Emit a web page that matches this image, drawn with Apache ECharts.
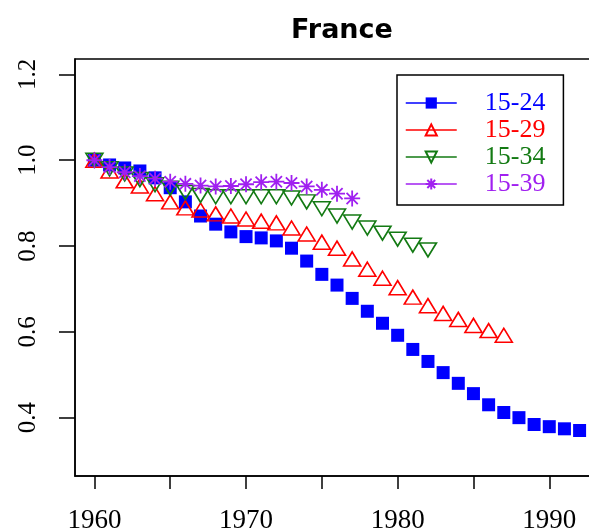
<!DOCTYPE html>
<html>
<head>
<meta charset="utf-8">
<script src="https://cdn.jsdelivr.net/npm/echarts@6/dist/echarts.min.js"></script>
<style>
  html, body { margin: 0; padding: 0; background: #fff; }
  #myChart { width: 589px; height: 531px; }
</style>
</head>
<body>
<div id="myChart"></div>
<script>
// data
const years = [1960, 1961, 1962, 1963, 1964, 1965, 1966, 1967, 1968, 1969, 1970,
  1971, 1972, 1973, 1974, 1975, 1976, 1977, 1978, 1979, 1980,
  1981, 1982, 1983, 1984, 1985, 1986, 1987, 1988, 1989, 1990, 1991, 1992]
const age1524 = [1.000, 0.989, 0.982, 0.975, 0.959, 0.936, 0.903, 0.870, 0.851, 0.833, 0.822,
  0.819, 0.812, 0.795, 0.765, 0.734, 0.709, 0.678, 0.648, 0.620, 0.592,
  0.559, 0.531, 0.505, 0.480, 0.456, 0.430, 0.412, 0.400, 0.384, 0.379, 0.374, 0.370]
const age1529 = [1.000, 0.975, 0.952, 0.940, 0.922, 0.903, 0.889, 0.884, 0.875, 0.870, 0.863,
  0.858, 0.854, 0.842, 0.828, 0.809, 0.795, 0.770, 0.746, 0.725, 0.703,
  0.681, 0.661, 0.643, 0.629, 0.615, 0.603, 0.592]
const age1534 = [1.000, 0.980, 0.968, 0.955, 0.943, 0.935, 0.925, 0.918, 0.915, 0.915, 0.915,
  0.915, 0.915, 0.912, 0.903, 0.887, 0.870, 0.856, 0.842, 0.830, 0.816,
  0.802, 0.791]
const age1539 = [1.000, 0.984, 0.972, 0.963, 0.957, 0.950, 0.945, 0.941, 0.939, 0.940, 0.944,
  0.949, 0.950, 0.947, 0.939, 0.931, 0.922, 0.911]
const seriesNames = ['15-24', '15-29', '15-34', '15-39']
const seriesColors = ['#0000ff', '#ff0000', '#137a13', '#a020f0']
const xTicks = [1960, 1965, 1970, 1975, 1980, 1985, 1990]
const xLabels = [1960, 1970, 1980, 1990]
const yTicks = [0.4, 0.6, 0.8, 1.0, 1.2]

const asterisk = 'path://M10,0L10,20M0,10L20,10M3,3L17,17M3,17L17,3'

function pairs(vals) {
  return vals.map((v, i) => [years[i], v])
}

function makeSeries(idx, vals, symbol, size, rotate, filled, bw) {
  const c = seriesColors[idx]
  return {
    name: seriesNames[idx],
    type: 'line',
    data: pairs(vals),
    symbol: symbol,
    symbolSize: size,
    symbolRotate: rotate,
    showAllSymbol: true,
    lineStyle: { width: 0, color: c },
    itemStyle: {
      color: filled ? c : 'rgba(0,0,0,0)',
      borderColor: c,
      borderWidth: filled ? 0 : bw
    },
    emphasis: { disabled: true }
  }
}

const myChart = echarts.init(document.getElementById('myChart'), null, { renderer: 'canvas' })
myChart.setOption({
  animation: false,
  title: {
    text: 'France',
    left: 337,
    top: 12,
    textAlign: 'center',
    textStyle: { fontFamily: 'DejaVu Sans', fontWeight: 'bold', fontSize: 27, color: '#000' }
  },
  grid: {
    left: 75,
    right: -10,
    top: 59,
    bottom: 55,
    outerBoundsMode: 'none',
    show: true,
    borderColor: '#000',
    borderWidth: 1.5
  },
  legend: {
    orient: 'vertical',
    left: 397,
    top: 75,
    padding: [15, 18, 8, 8],
    borderColor: '#000',
    borderWidth: 1.5,
    itemWidth: 51,
    itemHeight: 14,
    itemGap: 1,
    lineStyle: { width: 1.5, opacity: 1 },
    textStyle: {
      fontFamily: 'Liberation Serif',
      fontSize: 26,
      lineHeight: 26,
      padding: [0, 0, 0, 23]
    },
    data: seriesNames.map((n, i) => ({ name: n, textStyle: { color: seriesColors[i] } }))
  },
  xAxis: {
    type: 'value',
    min: 1958.72,
    max: 1993.28,
    axisLine: { show: true, lineStyle: { color: '#000', width: 1.5 } },
    axisTick: { show: true, length: 13, customValues: xTicks, lineStyle: { color: '#000', width: 1.5 } },
    axisLabel: {
      customValues: xLabels,
      margin: 31,
      fontFamily: 'Liberation Serif',
      fontSize: 27,
      color: '#000',
      formatter: v => String(Math.round(v))
    },
    splitLine: { show: false }
  },
  yAxis: {
    type: 'value',
    min: 0.264,
    max: 1.236,
    axisLine: { show: true, lineStyle: { color: '#000', width: 1.5 } },
    axisTick: { show: true, length: 16, customValues: yTicks, lineStyle: { color: '#000', width: 1.5 } },
    axisLabel: {
      customValues: yTicks,
      rotate: 90,
      margin: 34,
      fontFamily: 'Liberation Serif',
      fontSize: 25,
      color: '#000',
      formatter: v => v.toFixed(1)
    },
    splitLine: { show: false }
  },
  series: [
    makeSeries(0, age1524, 'rect', 13, 0, true, 0),
    makeSeries(1, age1529, 'triangle', [17, 14], 0, false, 1.6),
    makeSeries(2, age1534, 'triangle', [17, 14], 180, false, 1.6),
    makeSeries(3, age1539, asterisk, 16, 0, false, 1.8)
  ]
})
</script>
</body>
</html>
